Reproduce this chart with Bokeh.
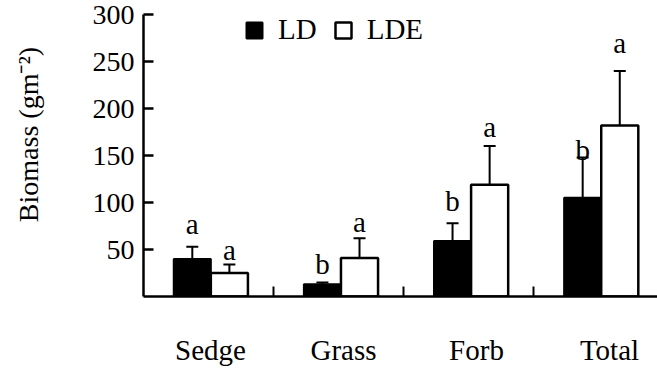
from bokeh.plotting import figure
from bokeh.models import (Range1d, FixedTicker, ColumnDataSource, Whisker, TeeHead,
                          Legend, LegendItem)
from bokeh.core.properties import value
from bokeh.embed import file_html
from bokeh.resources import INLINE

categories = ["Sedge", "Grass", "Forb", "Total"]
ld_mean = [40, 13, 59, 105]
ld_err = [13, 2, 19, 43]
lde_mean = [25, 41, 119, 182]
lde_err = [9, 21, 41, 58]
ld_letters = ["a", "b", "b", "b"]
lde_letters = ["a", "a", "a", "a"]
ld_letter_y = [77, 35, 102, 156]
lde_letter_y = [49, 79, 180, 270]
y_ticks = [50, 100, 150, 200, 250, 300]

FONT = "Liberation Serif"
BW = 0.285
centers = [i + 0.5 for i in range(len(categories))]
label_pos = [c + 0.015 + i * 0.022 for i, c in enumerate(centers)]
ld_x = [c - 0.125 for c in centers]
lde_x = [c + 0.16 for c in centers]

ld_src = ColumnDataSource(dict(x=ld_x, top=ld_mean,
                               upper=[m + e for m, e in zip(ld_mean, ld_err)],
                               lower=ld_mean, lab=ld_letters, ly=ld_letter_y))
lde_src = ColumnDataSource(dict(x=lde_x, top=lde_mean,
                                upper=[m + e for m, e in zip(lde_mean, lde_err)],
                                lower=lde_mean, lab=lde_letters, ly=lde_letter_y))

p = figure(width=657, height=368, output_backend="svg", toolbar_location=None,
           x_range=Range1d(0, 3.95), y_range=Range1d(0, 300),
           min_border_left=143, min_border_right=0, min_border_top=14,
           min_border_bottom=72)
p.outline_line_color = None
p.xgrid.visible = False
p.ygrid.visible = False

r1 = p.vbar(x="x", top="top", width=BW, bottom=0, source=ld_src,
            fill_color="black", line_color="black", line_width=2)
r2 = p.vbar(x="x", top="top", width=BW, bottom=0, source=lde_src,
            fill_color="white", line_color="black", line_width=2.5)

for src in (ld_src, lde_src):
    w = Whisker(base="x", upper="upper", lower="lower", source=src,
                line_width=2, line_color="black",
                upper_head=TeeHead(size=12, line_width=2, line_color="black"),
                lower_head=None, level="overlay")
    p.add_layout(w)
    p.text(x="x", y="ly", text="lab", source=src, text_align="center",
           text_baseline="alphabetic", text_font=value(FONT),
           text_font_size="29px", text_color="black")

# y axis
p.yaxis.ticker = FixedTicker(ticks=y_ticks)
p.yaxis.major_tick_in = 10
p.yaxis.major_tick_out = 0
p.yaxis.minor_tick_line_color = None
p.yaxis.axis_line_width = 2.5
p.yaxis.axis_line_color = "black"
p.yaxis.major_tick_line_width = 2.5
p.yaxis.major_tick_line_color = "black"
p.yaxis.major_label_text_font = FONT
p.yaxis.major_label_text_font_size = "28px"
p.yaxis.major_label_text_color = "black"
p.yaxis.major_label_standoff = 9
p.yaxis.axis_label = "\u2002\u2002\u2002Biomass (gm\u207b\u00b2)"
p.yaxis.axis_label_text_font = FONT
p.yaxis.axis_label_text_font_style = "normal"
p.yaxis.axis_label_text_font_size = "28px"
p.yaxis.axis_label_text_color = "black"
p.yaxis.axis_label_standoff = 46

# x axis
p.xaxis.ticker = FixedTicker(ticks=label_pos, minor_ticks=[1, 2, 3])
p.xaxis.major_label_overrides = {c: n for c, n in zip(label_pos, categories)}
p.xaxis.major_tick_in = 0
p.xaxis.major_tick_out = 0
p.xaxis.minor_tick_in = 10
p.xaxis.minor_tick_out = 0
p.xaxis.minor_tick_line_width = 2
p.xaxis.minor_tick_line_color = "black"
p.xaxis.axis_line_width = 2.5
p.xaxis.axis_line_color = "black"
p.xaxis.major_label_text_font = FONT
p.xaxis.major_label_text_font_size = "29px"
p.xaxis.major_label_text_color = "black"
p.xaxis.major_label_standoff = 37

legend = Legend(items=[LegendItem(label="LD", renderers=[r1]),
                       LegendItem(label="LDE", renderers=[r2])],
                orientation="horizontal", location=(101, 250),
                glyph_width=20, glyph_height=20, label_standoff=14,
                spacing=16, padding=0, margin=0,
                label_text_font=FONT, label_text_font_size="29px",
                label_text_color="black",
                border_line_color=None, background_fill_alpha=0)
p.add_layout(legend)

open("out.html", "w").write(file_html(p, INLINE))
